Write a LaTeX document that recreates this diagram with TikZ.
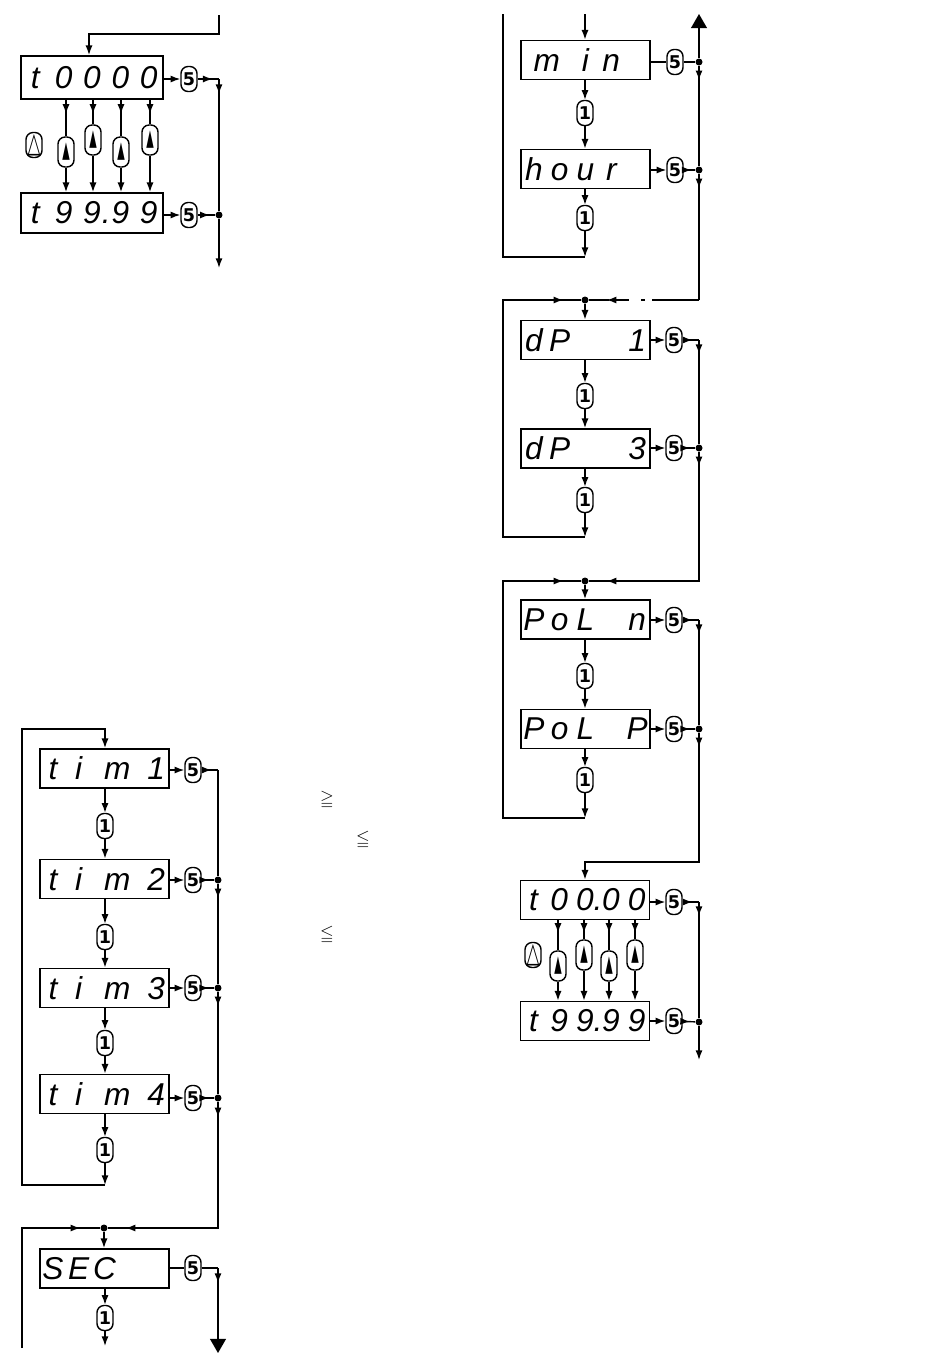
\documentclass[tikz,border=0pt]{standalone}
\usepackage{fontspec}
\usepackage{amssymb}
\usepackage{graphicx}
\usetikzlibrary{arrows.meta,decorations.markings}
\newfontfamily\segfont{Liberation Sans}
\newfontfamily\keyfont{DejaVu Sans}
\tikzset{>={Latex[length=5.5pt,width=4pt]}}
\newlength\dcw
\makeatletter
\newcommand\disp[2]{\setlength\dcw{#1}\@tfor\dc:=#2\do{%
  \if\dc*\makebox[\dcw]{}%
  \else\if\dc.\makebox[0pt]{.}%
  \else\if\dc m\makebox[2\dcw]{m}%
  \else\makebox[\dcw]{\dc}\fi\fi\fi}}
\makeatother
\newcommand\upsym{\scalebox{0.55}[1.3]{▲}}
\newcommand\dnsym{\scalebox{0.95}[1.6]{△}}
\tikzset{
  disp/.style={draw, line width=1pt, inner sep=0pt, minimum height=#1, font=\segfont\itshape\fontsize{18}{18}\selectfont},
  disp/.default=0.78cm,
  btn/.style={draw, rounded corners=4pt, inner sep=0pt, minimum width=0.32cm, minimum height=0.5cm, font=\keyfont\bfseries\fontsize{10}{10}\selectfont},
  upbtn/.style={btn, minimum height=0.6cm},
  jdot/.style={circle, fill, inner sep=0pt, minimum size=0.14cm},
  ar/.style={postaction={decorate, decoration={markings, mark=at position #1 with {\arrow{>}}}}},
  bigtip/.style={-{Triangle[length=8pt,width=9pt]}}
}

\begin{document}
\begin{tikzpicture}[x=0.02cm, y=-0.02cm, line width=0.8pt]
  \useasboundingbox (0,0) rectangle (950,1370);

  % t0000 / t99.99, top left
  \coordinate (a0) at (219,15);
  \coordinate (a4) at (89,34);
  \coordinate (a1) at (219,79);
  \coordinate (a3) at (219,268);
  \node[disp=0.86cm] (A1) at (92,77.5) {\disp{0.568cm}{t0000}};
  \node[disp=0.8cm] (A2) at (92,213) {\disp{0.568cm}{t99.99}};
  \node[btn] (A1k) at (189,79) {5};
  \node[btn] (A2k) at (189,215) {5};
  \node[jdot] (A2d) at (219,215) {};
  \node[btn] (A0k) at (34,145) {\dnsym};
  \draw[->] (a0) |- (a4) -- (a4 |- A1.north);
  \draw[->] (A1.east |- A1k) -- (A1k);
  \draw[ar=0.7] (A1k) -- (a1);
  \draw[ar=0.3cm] (a1) -- (A2d);
  \draw[->] (A2d) -- (a3);
  \draw[->] (A2.east |- A2k) -- (A2k);
  \draw[ar=0.7] (A2k) -- (A2d);
  \foreach \x/\y [count=\i] in {66/152,93/140,121/152,150/140}{
    \node[upbtn] (u\i) at (\x,\y) {\upsym};
    \draw[ar=0.28cm] (A1.south -| u\i) -- (u\i);
    \draw[->] (u\i) -- (A2.north -| u\i);
  }

  % min / hour
  \coordinate (b0) at (585,14);
  \coordinate (btop) at (699,14);
  \coordinate (b1) at (585,257);
  \coordinate (b2) at (503,14);
  \node[disp] (B1) at (585.5,60) {\disp{0.516cm}{min*}};
  \node[disp] (B2) at (585.5,169) {\disp{0.516cm}{hour*}};
  \node[btn] (B1k) at (675,62) {5};
  \node[btn] (B2k) at (675,170) {5};
  \node[jdot] (B1d) at (699,62) {};
  \node[jdot] (B2d) at (699,170) {};
  \node[btn] (B12) at (585,113) {1};
  \node[btn] (B23) at (585,218) {1};
  \draw[->] (b0) -- (b0 |- B1.north);
  \draw (B1.east |- B1k) -- (B1k) -- (B1d);
  \draw[bigtip] (B1d) -- (btop);
  \draw[ar=0.28cm] (B1d) -- (B2d);
  \draw[->] (B1.south -| B12) -- (B12);
  \draw[->] (B12) -- (B2.north -| B12);
  \draw[->] (B2.east |- B2k) -- (B2k);
  \draw[ar=0.7] (B2k) -- (B2d);
  \draw[->] (B2.south -| B23) -- (B23);
  \draw[->] (B23) -- (b1);
  \draw (b1) -| (b2);

  % dP 1 / dP 3
  \node[jdot] (J1) at (585,300) {};
  \coordinate (j1r) at (699,300);
  \coordinate (j1l) at (503,300);
  \coordinate (c1) at (699,340);
  \coordinate (c3) at (585,537);
  \node[disp] (C1) at (585.5,340) {\disp{0.516cm}{dP**1}};
  \node[disp] (C2) at (585.5,448.5) {\disp{0.516cm}{dP**3}};
  \node[btn] (C1k) at (674,340) {5};
  \node[btn] (C2k) at (674,448) {5};
  \node[jdot] (C2d) at (699,448) {};
  \node[btn] (C12) at (585,396) {1};
  \node[btn] (C23) at (585,500) {1};
  \draw[ar=0.28cm] (B2d) -- (j1r);
  \draw[ar=-0.35cm, dash pattern=on 27pt off 4pt on 2pt off 7pt on 7pt off 4pt on 30pt] (j1r) -- (J1);
  \draw[->] (J1) -- (J1 |- C1.north);
  \draw[->] (C1.east |- C1k) -- (C1k);
  \draw[ar=0.6] (C1k) -- (c1);
  \draw[ar=0.28cm] (c1) -- (C2d);
  \draw[->] (C1.south -| C12) -- (C12);
  \draw[->] (C12) -- (C2.north -| C12);
  \draw[->] (C2.east |- C2k) -- (C2k);
  \draw[ar=0.6] (C2k) -- (C2d);
  \draw[->] (C2.south -| C23) -- (C23);
  \draw[->] (C23) -- (c3);
  \draw[ar=-0.35cm] (c3) -| (j1l) -- (J1);

  % PoL n / PoL P
  \node[jdot] (J2) at (585,581) {};
  \coordinate (j2l) at (503,581);
  \coordinate (d1) at (699,620);
  \coordinate (c4) at (585,818);
  \coordinate (e0) at (585,862);
  \node[disp] (D1) at (585.5,619.5) {\disp{0.516cm}{PoL*n}};
  \node[disp] (D2) at (585.5,729) {\disp{0.516cm}{PoL*P}};
  \node[btn] (D1k) at (674,620) {5};
  \node[btn] (D2k) at (674,729) {5};
  \node[jdot] (D2d) at (699,729) {};
  \node[btn] (D12) at (585,676) {1};
  \node[btn] (D23) at (585,780) {1};
  \draw[ar=0.28cm, ar=-0.35cm] (C2d) |- (J2);
  \draw[->] (J2) -- (J2 |- D1.north);
  \draw[->] (D1.east |- D1k) -- (D1k);
  \draw[ar=0.6] (D1k) -- (d1);
  \draw[ar=0.28cm] (d1) -- (D2d);
  \draw[->] (D1.south -| D12) -- (D12);
  \draw[->] (D12) -- (D2.north -| D12);
  \draw[->] (D2.east |- D2k) -- (D2k);
  \draw[ar=0.6] (D2k) -- (D2d);
  \draw[->] (D2.south -| D23) -- (D23);
  \draw[->] (D23) -- (c4);
  \draw[ar=-0.35cm] (c4) -| (j2l) -- (J2);

  % t00.00 / t99.99, right
  \coordinate (e1) at (699,902);
  \coordinate (e3) at (699,1060);
  \node[disp] (E1) at (585,900) {\disp{0.516cm}{t00.00}};
  \node[disp] (E2) at (585,1021) {\disp{0.516cm}{t99.99}};
  \node[btn] (E1k) at (674,902) {5};
  \node[btn] (E2k) at (674,1021) {5};
  \node[jdot] (E2d) at (699,1022) {};
  \node[btn] (E0k) at (533,955) {\dnsym};
  \draw[ar=0.28cm, ->] (D2d) |- (e0) -- (e0 |- E1.north);
  \draw[->] (E1.east |- E1k) -- (E1k);
  \draw[ar=0.6] (E1k) -- (e1);
  \draw[ar=0.28cm] (e1) -- (E2d);
  \draw[->] (E2d) -- (e3);
  \draw[->] (E2.east |- E2k) -- (E2k);
  \draw[ar=0.6] (E2k) -- (E2d);
  \foreach \x/\y [count=\i] in {558/966,584/955,609/966,635/955}{
    \node[upbtn] (v\i) at (\x,\y) {\upsym};
    \draw[ar=0.25cm] (E1.south -| v\i) -- (v\i);
    \draw[->] (v\i) -- (E2.north -| v\i);
  }

  % tim1 ... tim4
  \coordinate (f0l) at (22,729);
  \coordinate (f0) at (105,729);
  \coordinate (f1) at (218,770);
  \coordinate (f5) at (105,1185);
  \node[disp] (F1) at (104.5,768.5) {\disp{0.516cm}{tim1}};
  \node[disp] (F2) at (104.5,879) {\disp{0.516cm}{tim2}};
  \node[disp] (F3) at (104.5,988) {\disp{0.516cm}{tim3}};
  \node[disp] (F4) at (104.5,1094) {\disp{0.516cm}{tim4}};
  \node[btn] (F1k) at (193,770) {5};
  \node[btn] (F2k) at (193,880) {5};
  \node[btn] (F3k) at (193,988) {5};
  \node[btn] (F4k) at (193,1098) {5};
  \node[jdot] (F2d) at (218,880) {};
  \node[jdot] (F3d) at (218,988) {};
  \node[jdot] (F4d) at (218,1098) {};
  \node[btn] (F12) at (105,826) {1};
  \node[btn] (F23) at (105,937) {1};
  \node[btn] (F34) at (105,1043) {1};
  \node[btn] (F45) at (105,1150) {1};
  \draw[->] (F1.east |- F1k) -- (F1k);
  \draw[ar=0.6] (F1k) -- (f1);
  \draw (f1) -- (F2d);
  \foreach \n in {2,3,4}{
    \draw[->] (F\n.east |- F\n k) -- (F\n k);
    \draw[ar=0.6] (F\n k) -- (F\n d);
  }
  \draw[ar=0.28cm] (F2d) -- (F3d);
  \draw[ar=0.28cm] (F3d) -- (F4d);
  \draw[->] (F1.south -| F12) -- (F12);
  \draw[->] (F12) -- (F2.north -| F12);
  \draw[->] (F2.south -| F23) -- (F23);
  \draw[->] (F23) -- (F3.north -| F23);
  \draw[->] (F3.south -| F34) -- (F34);
  \draw[->] (F34) -- (F4.north -| F34);
  \draw[->] (F4.south -| F45) -- (F45);
  \draw[->] (F45) -- (f5);
  \draw[->] (f5) -| (f0l) -- (f0) -- (f0 |- F1.north);

  % SEC
  \node[jdot] (J3) at (104,1228) {};
  \coordinate (g0) at (22,1348);
  \coordinate (g1) at (218,1268);
  \coordinate (g2) at (218,1353);
  \coordinate (g3) at (105,1346);
  \node[disp] (G1) at (104.5,1268.5) {\disp{0.516cm}{SEC**}};
  \node[btn] (G1k) at (193,1268) {5};
  \node[btn] (G12) at (105,1318) {1};
  \draw[ar=0.3cm, ar=-0.35cm] (F4d) |- (J3);
  \draw[ar=-0.39cm] (g0) |- (J3);
  \draw[->] (J3) -- (J3 |- G1.north);
  \draw (G1.east |- G1k) -- (G1k) -- (g1);
  \draw[ar=0.3cm, bigtip] (g1) -- (g2);
  \draw[->] (G1.south -| G12) -- (G12);
  \draw[->] (G12) -- (g3);

  % loose signs
  \node (s1) at (327,800) {$\geqq$};
  \node (s2) at (363,840) {$\leqq$};
  \node (s3) at (327,935) {$\leqq$};
\end{tikzpicture}
\end{document}
